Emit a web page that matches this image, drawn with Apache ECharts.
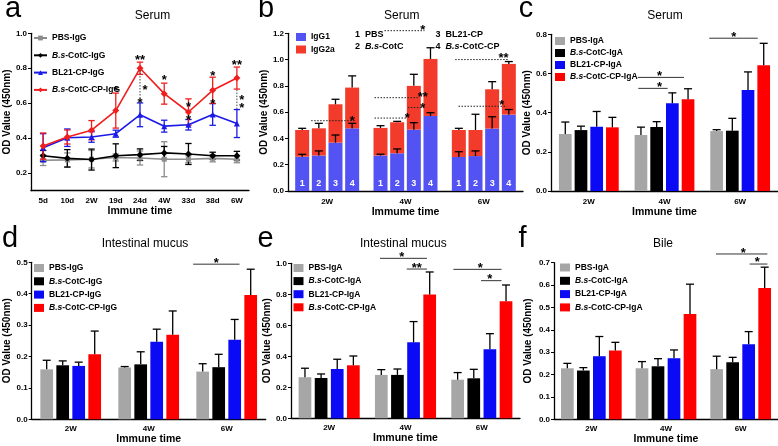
<!DOCTYPE html>
<html><head><meta charset="utf-8">
<script src="https://cdn.jsdelivr.net/npm/echarts@6/dist/echarts.min.js"></script>
<style>html,body{margin:0;padding:0;background:#fff}#c{width:778px;height:446px}</style>
</head><body><div id="c"></div>
<script>
// ================= DATA =================
// Panel a (line chart, Serum IgG)
const aCats = ['5d','10d','2W','19d','24d','4W','33d','38d','6W'];
const aNames = ['PBS-IgG','B.s-CotC-IgG','BL21-CP-IgG','B.s-CotC-CP-IgG'];
const aPBS      = [0.274,0.276,0.280,0.290,0.287,0.280,0.280,0.285,0.280];
const aPBSErr   = [0.030,0.040,0.050,0.020,0.040,0.100,0.020,0.020,0.020];
const aCotC     = [0.300,0.285,0.278,0.300,0.306,0.316,0.310,0.300,0.300];
const aCotCErr  = [0.030,0.050,0.060,0.068,0.033,0.037,0.060,0.020,0.025];
const aBL21     = [0.346,0.403,0.407,0.426,0.534,0.469,0.477,0.536,0.484];
const aBL21Err  = [0.080,0.050,0.030,0.020,0.068,0.034,0.030,0.062,0.080];
const aCotCCP   = [0.355,0.407,0.446,0.558,0.800,0.655,0.550,0.674,0.744];
const aCotCCPErr= [0.075,0.040,0.055,0.100,0.035,0.060,0.075,0.075,0.063];
const aTicks = [0.2,0.4,0.6,0.8,1.0];
// annotations a: [categoryIndex, value, text, pxShift]
const aStars = [[3,0.687,'*',0],[4,0.863,'**',0],[4,0.693,'*',5],[4,0.617,'*',0],[5,0.748,'*',0],
  [6,0.592,'*',0],[6,0.522,'*',0],[7,0.773,'*',0],[7,0.611,'*',0],[8,0.833,'**',0],[8,0.634,'*',5],[8,0.587,'*',5]];
const aDotted = [[4,0.79,0.63],[8,0.678,0.564]];

const barCats = ['2W','4W','6W'];
// Panel b (stacked, IgG1 / IgG2a) ; rows = groups 1..4, cols = 2W,4W,6W
const bGroups = ['PBS','B.s-CotC','BL21-CP','B.s-CotC-CP'];
const bIgG1     = [[0.261,0.270,0.259],[0.270,0.287,0.266],[0.368,0.467,0.475],[0.477,0.571,0.581]];
const bIgG1Err  = [[0.018,0.010,0.040],[0.035,0.033,0.039],[0.058,0.053,0.090],[0.038,0.025,0.039]];
const bIgG2a    = [[0.203,0.210,0.205],[0.207,0.236,0.198],[0.292,0.333,0.299],[0.310,0.434,0.386]];
const bTotalErr = [[0.013,0.017,0.013],[0.038,0.007,0.120],[0.038,0.088,0.058],[0.089,0.085,0.018]];
const bLines = [[0,0.54,3.22,0.535],[1,0.24,2.64,1.22],[1,-0.36,2.24,0.71],[1,1.64,2.68,0.635],[1,-0.36,1.54,0.555],[2,-0.22,3.0,1.0],[2,-0.02,2.88,0.645]];
const bStars = [[0,3.0,0.553,'*'],[1,2.54,1.246,'*'],[1,2.54,0.739,'**'],[1,2.54,0.652,'*'],[1,1.6,0.579,'*'],[2,2.68,1.036,'**'],[2,2.58,0.673,'*']];

// Panel c (Serum IgA)
const cNames = ['PBS-IgA','B.s-CotC-IgA','BL21-CP-IgA','B.s-CotC-CP-IgA'];
const cValues = [[0.291,0.286,0.306],[0.311,0.327,0.308],[0.328,0.448,0.516],[0.325,0.468,0.642]];
const cErrors = [[0.061,0.040,0.007],[0.020,0.027,0.063],[0.078,0.053,0.092],[0.051,0.054,0.112]];
const cLines = [[1,-0.2,2.74,0.58],[1,-0.17,1.70,0.524],[2,-0.47,2.62,0.78]];
const cStars = [[1,1.19,0.604,'*'],[1,1.19,0.546,'*'],[2,1.09,0.80,'*']];

// Panel d (Intestinal mucus IgG)
const dNames = ['PBS-IgG','B.s-CotC-IgG','BL21-CP-IgG','B.s-CotC-CP-IgG'];
const dValues = [[0.159,0.165,0.152],[0.172,0.175,0.166],[0.170,0.247,0.253],[0.207,0.269,0.396]];
const dErrors = [[0.029,0.003,0.025],[0.014,0.040,0.041],[0.012,0.040,0.065],[0.074,0.076,0.082]];
const dLines = [[2,-0.6,2.3,0.494]];
const dStars = [[2,0.85,0.508,'*']];

// Panel e (Intestinal mucus IgA)
const eNames = ['PBS-IgA','B.s-CotC-IgA','BL21-CP-IgA','B.s-CotC-CP-IgA'];
const eValues = [[0.265,0.280,0.249],[0.260,0.280,0.258],[0.318,0.490,0.445],[0.342,0.798,0.755]];
const eErrors = [[0.058,0.034,0.046],[0.026,0.038,0.058],[0.063,0.134,0.101],[0.060,0.146,0.105]];
const eLines = [[1,-0.08,2.83,1.032],[1,1.58,2.83,0.963],[2,-0.26,2.72,0.961],[2,1.45,2.72,0.888]];
const eStars = [[1,1.27,1.058,'*'],[1,2.2,0.989,'**'],[2,1.4,0.989,'*'],[2,2.0,0.914,'*']];

// Panel f (Bile IgA)
const fNames = ['PBS-IgA','B.s-CotC-IgA','BL21-CP-IgA','B.s-CotC-CP-IgA'];
const fValues = [[0.228,0.228,0.224],[0.218,0.237,0.255],[0.282,0.273,0.335],[0.307,0.471,0.587]];
const fErrors = [[0.022,0.030,0.058],[0.013,0.034,0.022],[0.088,0.037,0.057],[0.037,0.133,0.093]];
const fLines = [[2,-0.04,3.17,0.739],[2,2.06,3.17,0.694]];
const fStars = [[2,1.67,0.757,'*'],[2,2.54,0.715,'*']];

// ================= STYLE =================
const FONT = '"Liberation Sans", Arial, sans-serif';
const NARROW = '"Liberation Sans Narrow", "Liberation Sans", Arial, sans-serif';
const barColors = ['#A6A6A6','#000000','#0A0AF5','#FF0000'];
const lineColors = ['#8C8C8C','#000000','#1A1AE6','#F01E1E'];
const bColors = ['#5353F3','#F23B2B'];

const grid = [
  {left:31, top:33.3, width:218, height:157.4},
  {left:288, top:33.3, width:235, height:157.7},
  {left:551, top:34.3, width:229, height:156.7},
  {left:31.7, top:262.3, width:234, height:157},
  {left:291, top:263.3, width:229, height:155},
  {left:554, top:262.7, width:227, height:156.6}
];
const xAxis = [], yAxis = [], series = [], legend = [];

function mkX(gi, cats, name, gap, labelMargin, align) {
  xAxis.push({gridIndex:gi, type:'category', data:cats, boundaryGap:true,
    axisLine:{onZero:false, lineStyle:{color:'#000', width:1.3}},
    axisTick:{alignWithLabel:align, length:3, lineStyle:{color:'#000'}},
    axisLabel:{margin:labelMargin, color:'#000', fontSize:8, fontWeight:'bold', fontFamily:NARROW},
    name:name, nameLocation:'middle', nameGap:gap,
    nameTextStyle:{color:'#000', fontSize:10.5, fontWeight:'bold', fontFamily:NARROW},
    splitLine:{show:false}});
}
function mkY(gi, min, max, interval, gap, extra) {
  const ax = {gridIndex:gi, type:'value', min, max, interval,
    axisLine:{show:true, lineStyle:{color:'#000', width:1.3}},
    axisTick:{show:true, length:3, lineStyle:{color:'#000'}},
    axisLabel:{margin:4, color:'#000', fontSize:8, fontWeight:'bold', fontFamily:NARROW,
      formatter:v=>v.toFixed(1)},
    name:'OD Value (450nm)', nameLocation:'middle', nameRotate:90, nameGap:gap,
    nameTextStyle:{color:'#000', fontSize:10, fontWeight:'bold', fontFamily:FONT},
    splitLine:{show:false}};
  Object.assign(ax, extra || {});
  yAxis.push(ax);
}
function legendFmt(name) {
  const n = name.replace(/\u200b/g,'');
  if (n.indexOf('B.s') === 0) return '{i|B.s}{n|' + n.slice(3) + '}';
  return '{n|' + n + '}';
}
const richLegend = {
  n:{fontSize:8.5, fontWeight:'bold', fontFamily:NARROW, color:'#000'},
  i:{fontSize:8.5, fontWeight:'bold', fontStyle:'italic', fontFamily:NARROW, color:'#000'}
};
function mkLegend(names, left, top, iw, ih, gap) {
  legend.push({data:names, orient:'vertical', left, top, itemWidth:iw, itemHeight:ih, itemGap:gap,
    padding:0, selectedMode:false, formatter:legendFmt, icon: ih > 6 ? 'rect' : undefined,
    textStyle:{rich:richLegend, fontSize:8.5}});
}
function segLine(x1,y1,x2,y2,color,w,dash) {
  return {type:'line', shape:{x1,y1,x2,y2}, style:{stroke:color, lineWidth:w, lineDash:dash||null}};
}
function starText(x,y,t,size) {
  return {type:'text', x, y:y+size*0.25, style:{text:t, fill:'#000', fontSize:size, fontWeight:'bold',
    fontFamily:FONT, align:'center', verticalAlign:'middle'}};
}

// ================= PANEL a =================
mkX(0, aCats, 'Immune time', 14.5, 6, true);
mkY(0, 0.1, 1.0, null, 15, {axisLabel:{margin:4, color:'#000', fontSize:8, fontWeight:'bold', fontFamily:NARROW,
  customValues:aTicks, formatter:v=>v.toFixed(1)}, axisTick:{show:true, length:3, customValues:aTicks, lineStyle:{color:'#000'}}});
const aData = [[aPBS,aPBSErr,'rect',5],[aCotC,aCotCErr,'diamond',7],[aBL21,aBL21Err,'triangle',6],[aCotCCP,aCotCCPErr,'diamond',7]];
aData.forEach((d,k)=>{
  const col = lineColors[k];
  series.push({type:'custom', xAxisIndex:0, yAxisIndex:0, silent:true, z:2+k,
    data:d[0].map((v,i)=>[i,v,d[1][i]]),
    renderItem:(p,api)=>{
      const i=api.value(0), v=api.value(1), e=api.value(2);
      const lo=api.coord([i,v-e]), hi=api.coord([i,v+e]); const x=lo[0], c=3.2;
      return {type:'group', children:[segLine(x,lo[1],x,hi[1],col,1.3), segLine(x-c,lo[1],x+c,lo[1],col,1.3), segLine(x-c,hi[1],x+c,hi[1],col,1.3)]};
    }});
  series.push({type:'line', name:aNames[k], xAxisIndex:0, yAxisIndex:0, data:d[0], symbol:d[2], symbolSize:d[3],
    itemStyle:{color:col}, lineStyle:{color:col, width:1.6}, z:3+k, animation:false});
});
series.push({type:'custom', xAxisIndex:0, yAxisIndex:0, silent:true, z:10,
  data:aStars.map(s=>[s[0],s[1]]),
  renderItem:(p,api)=>{ const s=aStars[p.dataIndex]; const pt=api.coord([api.value(0),api.value(1)]);
    return starText(pt[0]+s[3], pt[1], s[2], 13); }});
series.push({type:'custom', xAxisIndex:0, yAxisIndex:0, silent:true, z:10,
  data:aDotted.map(s=>[s[0],s[1],s[2]]),
  renderItem:(p,api)=>{ const a=api.coord([api.value(0),api.value(1)]), b=api.coord([api.value(0),api.value(2)]);
    return segLine(a[0],a[1],b[0],b[1],'#444',1,[1.5,1.5]); }});
mkLegend(aNames, 33, 33.5, 13, 6, 8.3);

// ================= generic bar panel =================
function barErr(gi, vals, errs, k, pitch, cap) {
  return {type:'custom', xAxisIndex:gi, yAxisIndex:gi, silent:true, z:4,
    data: vals.map((v,i)=>[i,v,errs[i]]),
    renderItem:(p,api)=>{ const i=api.value(0), v=api.value(1), e=api.value(2);
      const b=api.coord([i,v]), t=api.coord([i,v+e]); const x=b[0]+(k-1.5)*pitch;
      return {type:'group', children:[segLine(x,b[1],x,t[1],'#000',1.3), segLine(x-cap/2,t[1],x+cap/2,t[1],'#000',1.3)]}; }};
}
function sigSeries(gi, lines, stars, pitch, color, dash, starSize) {
  series.push({type:'custom', xAxisIndex:gi, yAxisIndex:gi, silent:true, z:6,
    data: lines.map(l=>[l[0],l[3]]),
    renderItem:(p,api)=>{ const l=lines[p.dataIndex]; const c=api.coord([api.value(0),api.value(1)]);
      return segLine(c[0]+(l[1]-1.5)*pitch, c[1], c[0]+(l[2]-1.5)*pitch, c[1], color, 1, dash); }});
  series.push({type:'custom', xAxisIndex:gi, yAxisIndex:gi, silent:true, z:7,
    data: stars.map(s=>[s[0],s[2]]),
    renderItem:(p,api)=>{ const s=stars[p.dataIndex]; const c=api.coord([api.value(0),api.value(1)]);
      return starText(c[0]+(s[1]-1.5)*pitch, c[1], s[3], starSize); }});
}
function barPanel(gi, names, values, errors, barW, gap, lines, stars) {
  const pitch = barW*(1+gap);
  names.forEach((nm,k)=>{
    series.push({type:'bar', name:nm, xAxisIndex:gi, yAxisIndex:gi, data:values[k], barWidth:barW,
      barGap:(gap*100)+'%', itemStyle:{color:barColors[k]}, z:2, animation:false});
    series.push(barErr(gi, values[k], errors[k], k, pitch, 8));
  });
  sigSeries(gi, lines, stars, pitch, '#333', null, 13);
}

// ================= PANEL b =================
mkX(1, barCats, 'Immume time', 14.5, 7, false);
mkY(1, 0, 1.2, 0.2, 16);
(function(){
  const barW=14, gap=0.19, pitch=barW*(1+gap);
  bGroups.forEach((g,k)=>{
    series.push({type:'bar', name:'IgG1', stack:'s'+k, xAxisIndex:1, yAxisIndex:1, data:bIgG1[k], barWidth:barW,
      barGap:(gap*100)+'%', itemStyle:{color:bColors[0]}, z:2, animation:false,
      label:{show:true, position:'insideBottom', distance:3, formatter:String(k+1), color:'#fff',
        fontSize:9, fontWeight:'bold', fontFamily:FONT}});
    series.push({type:'bar', name:'IgG2a', stack:'s'+k, xAxisIndex:1, yAxisIndex:1, data:bIgG2a[k], barWidth:barW,
      barGap:(gap*100)+'%', itemStyle:{color:bColors[1]}, z:2, animation:false});
    series.push(barErr(1, bIgG1[k], bIgG1Err[k], k, pitch, 8));
    series.push(barErr(1, bIgG1[k].map((v,i)=>v+bIgG2a[k][i]), bTotalErr[k], k, pitch, 8));
  });
  sigSeries(1, bLines, bStars, pitch, '#222', [1.5,1.5], 13);
})();
mkLegend(['IgG1','IgG2a'], 296, 32.5, 10, 8, 3.5);

// ================= PANEL c =================
mkX(2, barCats, 'Immune time', 14.5, 7, true);
mkY(2, 0, 0.8, 0.2, 18);
barPanel(2, cNames, cValues, cErrors, 12.7, 0.236, cLines, cStars);
mkLegend(cNames, 555, 36.5, 10, 8, 3);

// ================= PANEL d =================
const dN = dNames.map(n=>n+'\u200b');
mkX(3, barCats, 'Immune time', 11, 5, true);
mkY(3, 0, 0.5, 0.1, 18.5);
barPanel(3, dN, dValues, dErrors, 12.7, 0.26, dLines, dStars);
mkLegend(dN, 34, 263.5, 10, 8, 4.3);

// ================= PANEL e =================
const eN = eNames.map(n=>n+'\u200b');
mkX(4, barCats, 'Immune time', 11, 5, true);
mkY(4, 0, 1.0, 0.2, 19);
barPanel(4, eN, eValues, eErrors, 12.7, 0.27, eLines, eStars);
mkLegend(eN, 293.5, 263.5, 10, 8, 4.1);

// ================= PANEL f =================
const fN = fNames.map(n=>n+'\u200b\u200b');
mkX(5, barCats, 'Immune time', 11, 5, true);
mkY(5, 0, 0.7, 0.1, 21);
barPanel(5, fN, fValues, fErrors, 12.7, 0.26, fLines, fStars);
mkLegend(fN, 560, 263, 10, 8, 4.3);

// ================= TEXT GRAPHICS =================
function gText(x,y,text,size,weight,extra){
  return Object.assign({type:'text', x, y, silent:true, style:{text, fill:'#000', fontSize:size, fontWeight:weight||'normal',
    fontFamily:FONT, align:'center', verticalAlign:'middle'}}, extra||{});
}
const bRich = {n:{fontSize:9, fontWeight:'bold', fontFamily:NARROW, fill:'#000'}, i:{fontSize:9, fontWeight:'bold', fontStyle:'italic', fontFamily:NARROW, fill:'#000'}};
function richText(x,y,text){
  return {type:'text', x, y, silent:true, style:{text, rich:bRich, align:'left', verticalAlign:'middle', fill:'#000'}};
}
const graphic = [
  gText(13,8.5,'a',29), gText(266,8.5,'b',29), gText(526,8.5,'c',29),
  gText(10,238.5,'d',29), gText(265.5,238.5,'e',29), gText(522.5,238.5,'f',29),
  gText(152.5,15.5,'Serum',12), gText(401.7,15.5,'Serum',12), gText(665,15.5,'Serum',12),
  gText(145,244,'Intestinal mucus',12), gText(403.3,244,'Intestinal mucus',12), gText(663,244,'Bile',12),
  richText(355,35,'{n|1  PBS}'), richText(355,47,'{n|2  }{i|B.s}{n|-CotC}'),
  richText(435.5,35,'{n|3  BL21-CP}'), richText(435.5,47,'{n|4  }{i|B.s}{n|-CotC-CP}')
];

const chart = echarts.init(document.getElementById('c'));
chart.setOption({animation:false, backgroundColor:'#fff', grid, xAxis, yAxis, series, legend, graphic});
</script></body></html>
